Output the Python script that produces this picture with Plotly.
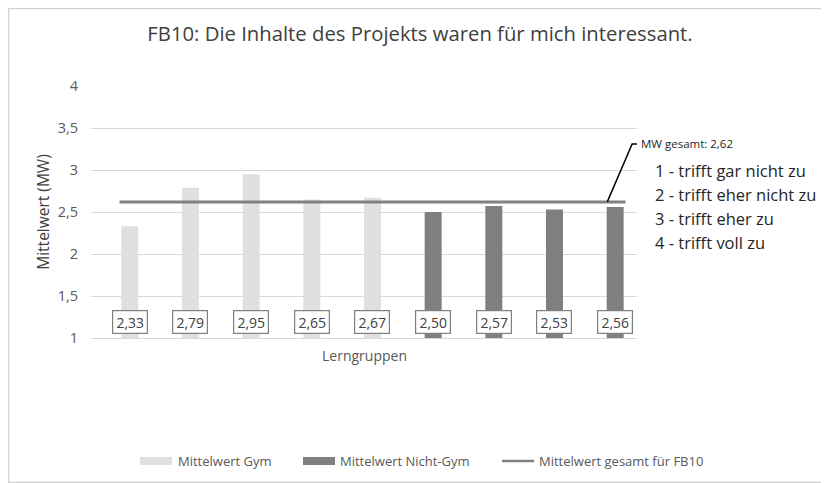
import plotly.graph_objects as go

# ---- data ----
groups = ["G1", "G2", "G3", "G4", "G5", "N1", "N2", "N3", "N4"]
gym_values = [2.33, 2.79, 2.95, 2.65, 2.67]
nongym_values = [2.50, 2.57, 2.53, 2.56]
overall_mean = 2.62
y_tick_vals = [1, 1.5, 2, 2.5, 3, 3.5, 4]
y_tick_text = ["1", "1,5", "2", "2,5", "3", "3,5", "4"]
scale_labels = ["1 - trifft gar nicht zu", "2 - trifft eher nicht zu",
                "3 - trifft eher zu", "4 - trifft voll zu"]
legend_names = ["Mittelwert Gym", "Mittelwert Nicht-Gym", "Mittelwert gesamt für FB10"]
title_text = "FB10: Die Inhalte des Projekts waren für mich interessant."

FONT = "Open Sans"
TXT = "#595959"
C_GYM = "#e0e0e0"
C_NON = "#7f7f7f"
C_LINE = "#808080"

# the page body adds an 8px offset; work in page pixels and convert
OFF = 8
W, H = 829 - OFF, 483 - OFF
L, R, T, B = 91 - OFF, 637 - OFF, 86 - OFF, 338 - OFF
PW, PH = R - L, B - T


def px(x):
    return (x - OFF - L) / PW


def py(y):
    return (B - (y - OFF)) / PH


n_gym = len(gym_values)
x_gym = list(range(n_gym))
x_non = list(range(n_gym, n_gym + len(nongym_values)))
all_vals = gym_values + nongym_values
last_x = len(all_vals) - 1

fig = go.Figure()
fig.add_trace(go.Bar(x=x_gym, y=gym_values, name=legend_names[0],
                     marker=dict(color=C_GYM, line=dict(width=0)), width=0.28))
fig.add_trace(go.Bar(x=x_non, y=nongym_values, name=legend_names[1],
                     marker=dict(color=C_NON, line=dict(width=0)), width=0.28))
fig.add_trace(go.Scatter(x=[-0.17, last_x + 0.17], y=[overall_mean] * 2,
                         mode="lines", name=legend_names[2],
                         line=dict(color=C_LINE, width=3)))

# value boxes
for i, v in enumerate(all_vals):
    fig.add_annotation(x=i, y=1.19, xref="x", yref="y",
                       text=f"{v:.2f}".replace(".", ","), showarrow=False,
                       font=dict(family=FONT, size=14, color="#404040"),
                       bgcolor="white", bordercolor="#7f7f7f", borderwidth=1.2,
                       borderpad=3, width=28, height=16)

# MW gesamt callout
fig.add_shape(type="path", xref="x", yref="y",
              path=f"M {last_x - 0.13},{overall_mean} L {last_x + 0.28},3.31 L {last_x + 0.38},3.31",
              line=dict(color="#000000", width=1.5))
fig.add_annotation(x=px(639), y=3.31, xref="paper", yref="y",
                   text="MW gesamt: " + f"{overall_mean:.2f}".replace(".", ","),
                   showarrow=False, xanchor="left", yanchor="middle",
                   font=dict(family=FONT, size=11.5, color="#262626"))

# scale legend text
for k, s in enumerate(scale_labels):
    fig.add_annotation(x=px(653), y=py(170 + 24 * k), xref="paper", yref="paper",
                       text=s, showarrow=False, xanchor="left", yanchor="middle",
                       font=dict(family=FONT, size=16.5, color="#262626"))

# manual legend (wide swatches as in the reference)
leg_y = 461
fig.add_shape(type="rect", xref="paper", yref="paper",
              x0=px(140), x1=px(172), y0=py(457), y1=py(465),
              fillcolor=C_GYM, line=dict(width=0))
fig.add_shape(type="rect", xref="paper", yref="paper",
              x0=px(303), x1=px(335), y0=py(457), y1=py(465),
              fillcolor=C_NON, line=dict(width=0))
fig.add_shape(type="line", xref="paper", yref="paper",
              x0=px(502), x1=px(534), y0=py(leg_y), y1=py(leg_y),
              line=dict(color=C_LINE, width=2.5))
for name, xpos in zip(legend_names, [176, 338, 537]):
    fig.add_annotation(x=px(xpos), y=py(leg_y), xref="paper", yref="paper",
                       text=name, showarrow=False, xanchor="left", yanchor="middle",
                       font=dict(family=FONT, size=13, color=TXT))

# x axis title
fig.add_annotation(x=0.5, y=py(355), xref="paper", yref="paper", text="Lerngruppen",
                   showarrow=False, yanchor="middle",
                   font=dict(family=FONT, size=14, color=TXT))

# chart border (left, top, bottom edges; right edge lies outside the view)
fig.add_shape(type="rect", xref="paper", yref="paper",
              x0=px(OFF + 0.7), x1=px(900), y0=py(483 - 0.7), y1=py(OFF + 0.7),
              line=dict(color="#d0d0d0", width=1.2), layer="below")

fig.update_layout(
    width=W, height=H,
    margin=dict(l=L, r=W - R, t=T, b=H - B, autoexpand=False),
    paper_bgcolor="white", plot_bgcolor="white",
    title=dict(text=title_text, x=((147 + 693) / 2 - OFF) / W, xanchor="center",
               xref="container", y=1 - (34 - OFF) / H, yanchor="middle", yref="container",
               font=dict(family=FONT, size=20.3, color="#404040")),
    font=dict(family=FONT, color=TXT),
    showlegend=False,
)
fig.update_xaxes(range=[-0.64, last_x + 0.36], showticklabels=False,
                 showgrid=False, zeroline=False, showline=True, automargin=False,
                 linecolor="#d9d9d9", linewidth=1, ticks="")
fig.update_yaxes(range=[1, 4], tickvals=y_tick_vals, ticktext=y_tick_text,
                 showgrid=True, gridcolor="#d9d9d9", gridwidth=1, zeroline=False,
                 automargin=False,
                 tickfont=dict(family=FONT, size=14.5, color=TXT), ticks="",
                 ticklabelstandoff=12,
                 title=dict(text="Mittelwert (MW)", standoff=4,
                            font=dict(family=FONT, size=15.5, color="#404040")))

fig.write_html("out.html")
